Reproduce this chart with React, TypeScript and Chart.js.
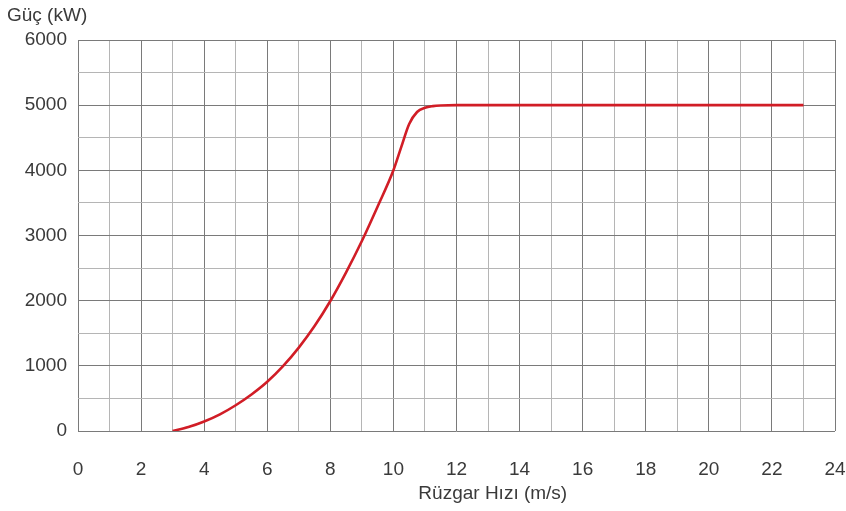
import { useEffect, useRef } from "react";
import { Chart, registerables } from "chart.js";

Chart.register(...registerables);

// Power curve of a 5 MW wind turbine
const windSpeed = [3, 3.5, 4, 4.5, 5, 5.5, 6, 6.5, 7, 7.5, 8, 8.5, 9, 9.5, 10, 10.25, 10.5, 10.75, 11, 11.25, 11.5, 12, 23];
const powerKw = [0, 60, 145, 255, 395, 560, 755, 995, 1280, 1610, 1995, 2435, 2915, 3445, 4000, 4360, 4710, 4895, 4960, 4985, 4995, 5000, 5000];

const xTickLabels = ["0", "2", "4", "6", "8", "10", "12", "14", "16", "18", "20", "22", "24"];
const yTickLabels = ["0", "1000", "2000", "3000", "4000", "5000", "6000"];

const yAxisTitle = "Güç (kW)";
const xAxisTitle = "Rüzgar Hızı (m/s)";

const FONT = "'Liberation Sans', Arial, sans-serif";
const TEXT = "#3a3a3a";
const FONT_SIZE = 19;

export default function App() {
  const ref = useRef<HTMLCanvasElement | null>(null);

  useEffect(() => {
    if (!ref.current) return;

    const titles = {
      id: "axisTitles",
      afterDraw(chart: any) {
        const ctx = chart.ctx;
        const xs = chart.scales.x;
        ctx.save();
        ctx.fillStyle = TEXT;
        ctx.font = `${FONT_SIZE}px ${FONT}`;
        ctx.textBaseline = "middle";
        ctx.textAlign = "left";
        ctx.fillText(yAxisTitle, 7, 16);
        ctx.textAlign = "center";
        ctx.fillText(xAxisTitle, xs.getPixelForValue(13.15), 494);
        ctx.restore();
      },
    };

    const chart = new Chart(ref.current, {
      type: "line",
      data: {
        datasets: [
          {
            data: windSpeed.map((x, i) => ({ x, y: powerKw[i] })),
            borderColor: "#d11d26",
            borderWidth: 2.6,
            pointRadius: 0,
            fill: false,
            cubicInterpolationMode: "monotone",
          },
        ],
      },
      options: {
        responsive: false,
        animation: false,
        layout: { padding: { top: 40, right: 11, left: 0, bottom: 0 } },
        plugins: { legend: { display: false }, tooltip: { enabled: false } },
        scales: {
          x: {
            type: "linear",
            min: 0,
            max: 24,
            afterFit(scale: any) {
              scale.height = 80;
              scale.paddingLeft = 0;
              scale.paddingRight = 0;
            },
            border: { display: false },
            grid: {
              drawTicks: false,
              lineWidth: 1,
              color: (c: any) => (c.tick && c.tick.value % 2 === 0 ? "#7a7a7a" : "#b5b5b5"),
            },
            ticks: {
              stepSize: 1,
              padding: 27,
              maxRotation: 0,
              autoSkip: false,
              color: TEXT,
              font: { family: FONT, size: FONT_SIZE },
              callback: (v: any) => {
                const idx = xTickLabels.indexOf(String(v));
                return idx >= 0 ? xTickLabels[idx] : "";
              },
            },
          },
          y: {
            type: "linear",
            min: 0,
            max: 6000,
            afterFit(scale: any) {
              scale.width = 78;
              scale.paddingTop = 0;
              scale.paddingBottom = 0;
            },
            border: { display: false },
            grid: {
              drawTicks: false,
              lineWidth: 1,
              color: (c: any) => (c.tick && c.tick.value % 1000 === 0 ? "#7a7a7a" : "#b5b5b5"),
            },
            ticks: {
              stepSize: 500,
              padding: 11,
              autoSkip: false,
              color: TEXT,
              font: { family: FONT, size: FONT_SIZE },
              callback: (v: any) => {
                const idx = yTickLabels.indexOf(String(v));
                return idx >= 0 ? yTickLabels[idx] : "";
              },
            },
          },
        },
      },
      plugins: [titles],
    });

    return () => chart.destroy();
  }, []);

  return (
    <div style={{ position: "fixed", left: 0, top: 0, width: 846, height: 511, background: "#fff" }}>
      <canvas ref={ref} width={846} height={511} />
    </div>
  );
}
